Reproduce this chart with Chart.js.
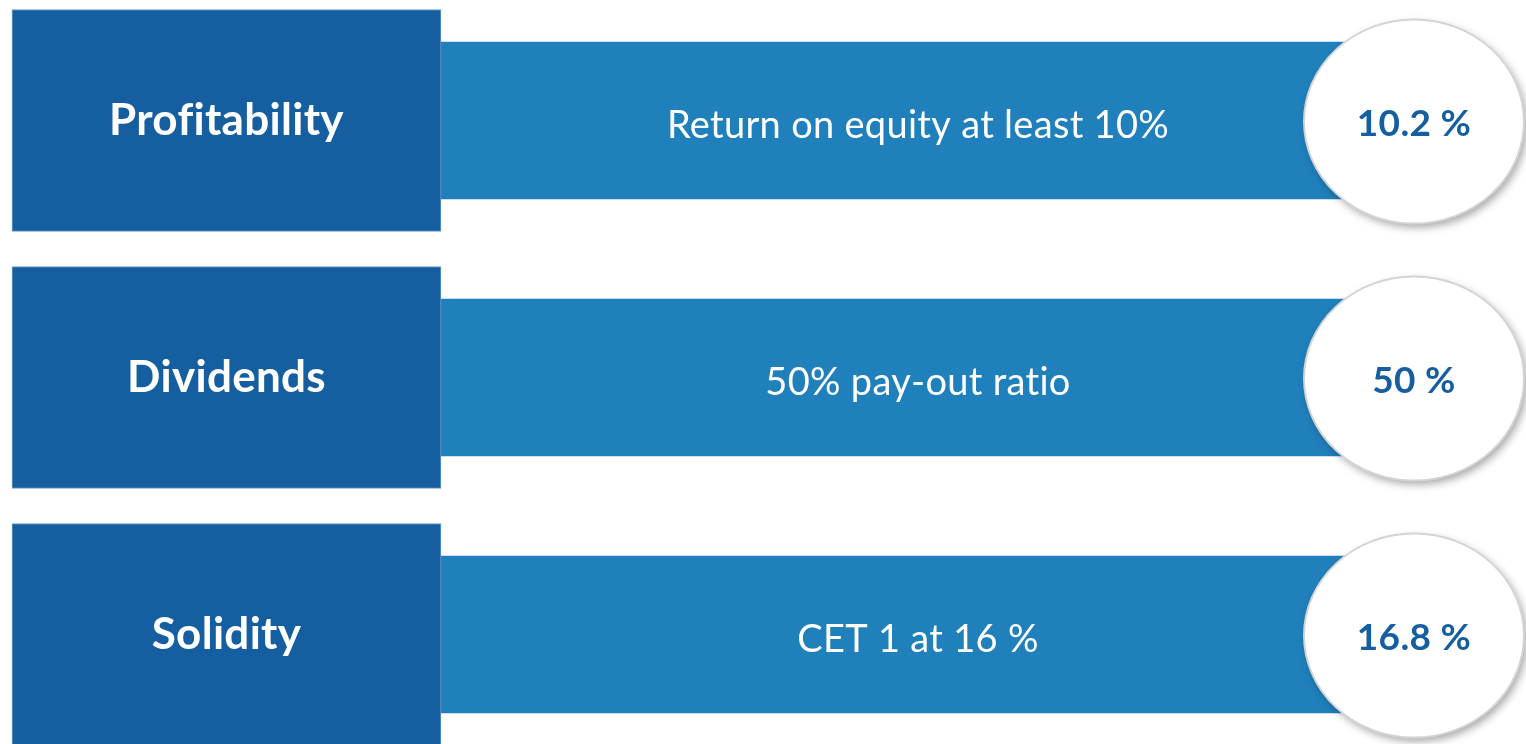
<!DOCTYPE html>
<html>
<head>
<meta charset="utf-8">
<script src="https://cdn.jsdelivr.net/npm/chart.js@4/dist/chart.umd.min.js"></script>
<style>
  html, body { margin: 0; padding: 0; background: #fff; overflow: hidden; }
  #wrap { position: absolute; left: 0; top: -8px; width: 1526px; height: 771px; }
</style>
</head>
<body>
<div id="wrap"><canvas id="kpiChart"></canvas></div>
<script>
// data
const categories = ['Profitability', 'Dividends', 'Solidity'];
const targets = ['Return on equity at least 10%', '50% pay-out ratio', 'CET 1 at 16 %'];
const outcomes = [10.2, 50, 16.8];

// layout (x scale runs 0..1526, one unit per pixel of the page)
const labelBox = [12, 441];
const targetBand = [441, 1360];
const badgeX = 1414;

const darkBlue = '#155EA0';
const midBlue = '#2080BC';

const kpiText = {
    id: 'kpiText',
    afterDatasetsDraw(chart) {
        const { ctx, scales: { x, y } } = chart;
        ctx.save();
        ctx.letterSpacing = '0.3px'; // also stops Lato's fi/ti ligatures
        categories.forEach((cat, i) => {
            const cy = y.getPixelForValue(i);
            ctx.textAlign = 'center';
            ctx.textBaseline = 'middle';

            // category label in dark box
            ctx.fillStyle = '#fff';
            ctx.font = 'bold 44px Lato';
            ctx.fillText(cat, x.getPixelForValue((labelBox[0] + labelBox[1]) / 2), cy);

            // target text in band
            ctx.font = '38px Lato';
            ctx.fillText(targets[i], x.getPixelForValue(918), cy + 5);

            // outcome badge
            const cx = x.getPixelForValue(badgeX);
            ctx.save();
            ctx.shadowColor = 'rgba(0,0,0,0.35)';
            ctx.shadowBlur = 8;
            ctx.shadowOffsetX = 3;
            ctx.shadowOffsetY = 4;
            ctx.beginPath();
            ctx.ellipse(cx, cy + 1, 110, 102, 0, 0, Math.PI * 2);
            ctx.fillStyle = '#fff';
            ctx.fill();
            ctx.restore();
            ctx.lineWidth = 2;
            ctx.strokeStyle = '#D4D4D4';
            ctx.stroke();

            ctx.fillStyle = darkBlue;
            ctx.font = 'bold 37px Lato';
            ctx.fillText(outcomes[i] + ' %', cx, cy + 4);
        });
        ctx.restore();
    }
};

new Chart(document.getElementById('kpiChart'), {
    type: 'bar',
    data: {
        labels: categories,
        datasets: [{
            label: 'Target',
            data: categories.map(() => targetBand),
            backgroundColor: midBlue,
            barThickness: 157,
            grouped: false,
            order: 2
        }, {
            label: 'Area',
            data: categories.map(() => labelBox),
            backgroundColor: darkBlue,
            borderColor: '#6E9CC8',
            borderWidth: 1,
            borderSkipped: false,
            barThickness: 222,
            grouped: false,
            order: 1
        }]
    },
    options: {
        indexAxis: 'y',
        responsive: true,
        maintainAspectRatio: false,
        animation: false,
        layout: { padding: 0 },
        plugins: {
            legend: { display: false },
            tooltip: { enabled: false }
        },
        scales: {
            x: { type: 'linear', min: 0, max: 1526, display: false },
            y: { display: false, offset: true, grid: { display: false } }
        }
    },
    plugins: [kpiText]
});
</script>
</body>
</html>
